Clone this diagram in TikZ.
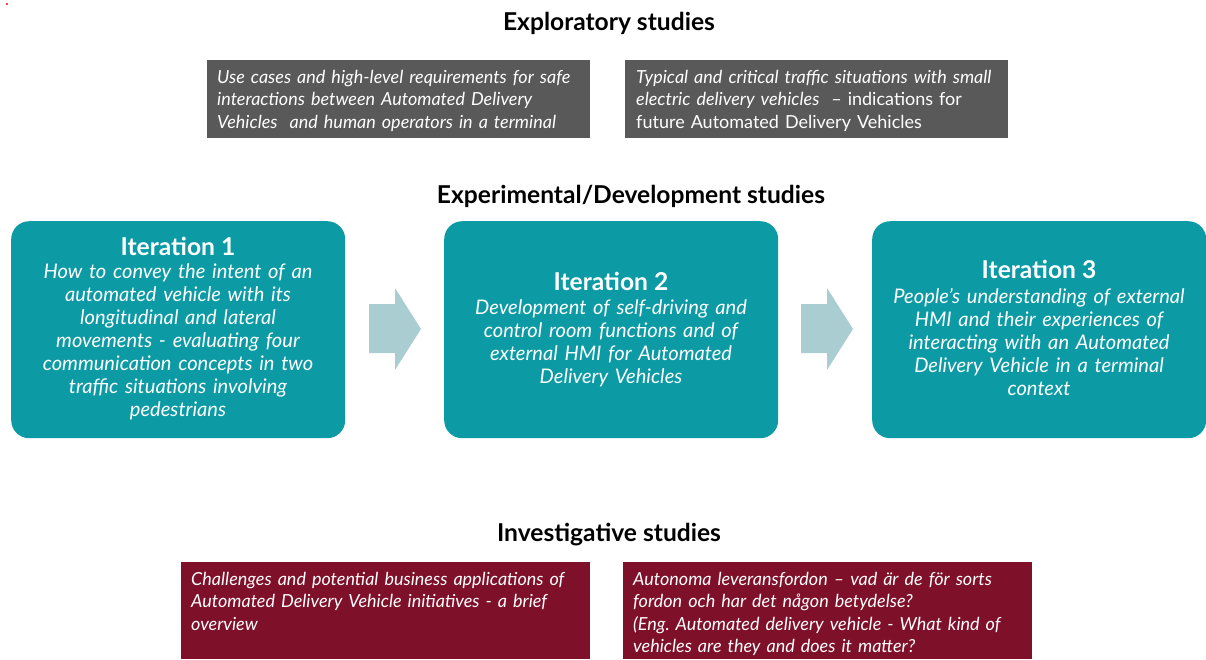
\documentclass[tikz,border=0pt]{standalone}
\usepackage{fontspec}
\setmainfont{Lato}
\frenchspacing
\begin{document}
\begin{tikzpicture}[x=1pt,y=-1pt,
  heading/.style={anchor=base, inner sep=0pt, font=\fontsize{24.6}{28}\selectfont\bfseries},
  panel/.style={anchor=north west, inner sep=0pt, draw=none, minimum width=#1},
  graypanel/.style={panel=383pt, fill=exgray, minimum height=78pt},
  redpanel/.style={panel=409pt, fill=invred, minimum height=97pt},
  iterpanel/.style={panel=334pt, fill=iterteal, minimum height=217pt, rounded corners=18pt},
  paneltext/.style={anchor=base west, inner sep=0pt, text=white, align=left,
    text width=#1, font=\fontsize{18}{22.5}\selectfont},
  itertitle/.style={anchor=base, inner sep=0pt, text=white, font=\fontsize{24.6}{28}\selectfont\bfseries},
  iterbody/.style={anchor=base, inner sep=0pt, text=white, align=center,
    text width=332pt, font=\fontsize{20.1}{23.1}\selectfont\itshape},
  flowarrow/.style={fill=arrowblue, draw=none}
]
\definecolor{exgray}{HTML}{595959}
\definecolor{invred}{HTML}{7F1029}
\definecolor{iterteal}{HTML}{0C9BA5}
\definecolor{arrowblue}{HTML}{AACDD2}

\useasboundingbox (0,0) rectangle (1206,659);
\fill[red] (7,4) circle (1.1pt);

% --- exploratory studies ---
\node[heading] (hexp) at (609,30) {Exploratory studies};
\node[graypanel] (g1) at (207,60) {};
\node[paneltext=372pt] (g1t) at (217,83) {\itshape Use cases and high-level requirements for safe\\
interactions between Automated Delivery\\
Vehicles\ \ and human operators in a terminal};
\node[graypanel] (g2) at (625,60) {};
\node[paneltext=372pt] (g2t) at (636,83) {\textit{Typical and critical traffic situations with small}\\
\textit{electric delivery vehicles}\ \ – indications for\\
future Automated Delivery Vehicles};

% --- experimental/development studies ---
\node[heading] (hdev) at (631,203) {Experimental/Development studies};

\node[iterpanel] (it1) at (11,221) {};
\node[itertitle] (it1h) at (178,255) {Iteration 1};
\node[iterbody] (it1b) at (178,278) {How to convey the intent of an\\
automated vehicle with its\\
longitudinal and lateral\\
movements - evaluating four\\
communication concepts in two\\
traffic situations involving\\
pedestrians};

\node[iterpanel] (it2) at (444,221) {};
\node[itertitle] (it2h) at (611,290) {Iteration 2};
\node[iterbody] (it2b) at (611,314) {Development of self-driving and\\
control room functions and of\\
external HMI for Automated\\
Delivery Vehicles};

\node[iterpanel] (it3) at (872,221) {};
\node[itertitle] (it3h) at (1039,278) {Iteration 3};
\node[iterbody] (it3b) at (1039,303) {People’s understanding of external\\
HMI and their experiences of\\
interacting with an Automated\\
Delivery Vehicle in a terminal\\
context};

% block arrows between iterations
\foreach \ax in {369,801}{
  \fill[flowarrow] (\ax,304) -- ++(26,0) -- ++(0,-16) -- ++(26,41) -- ++(-26,41)
    -- ++(0,-17) -- ++(-26,0) -- cycle;
}

% --- investigative studies ---
\node[heading] (hinv) at (609,541) {Investigative studies};
\node[redpanel] (r1) at (181,562) {};
\node[paneltext=398pt] (r1t) at (191,585) {\itshape Challenges and potential business applications of\\
Automated Delivery Vehicle initiatives - a brief\\
overview};
\node[redpanel] (r2) at (623,562) {};
\node[paneltext=398pt] (r2t) at (633,585) {\itshape Autonoma leveransfordon – vad är de för sorts\\
fordon och har det någon betydelse?\\
(Eng. Automated delivery vehicle - What kind of\\
vehicles are they and does it matter?};
\end{tikzpicture}
\end{document}
